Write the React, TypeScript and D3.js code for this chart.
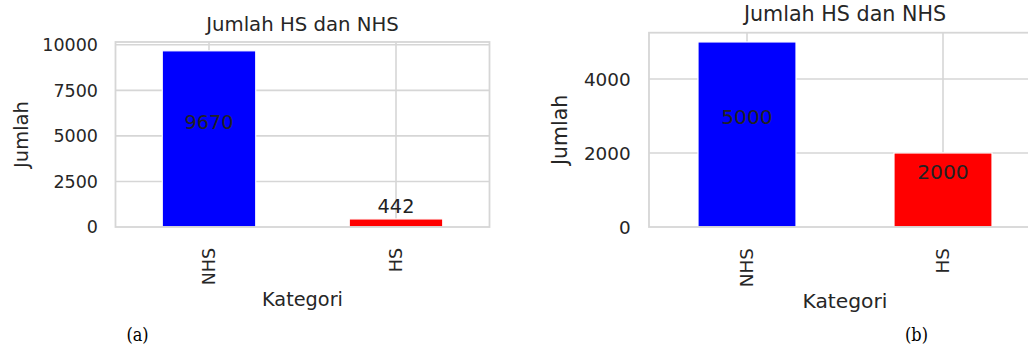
import React from 'react';
import * as d3 from 'd3';

const categories = ['NHS', 'HS'];
const valuesA = [9670, 442];
const valuesB = [5000, 2000];
const ticksA = [0, 2500, 5000, 7500, 10000];
const ticksB = [0, 2000, 4000];
const barColors = ['#0000ff', '#ff0000'];
const chartTitle = 'Jumlah HS dan NHS';
const xLabel = 'Kategori';
const yLabel = 'Jumlah';
const captions = ['(a)', '(b)'];

const W = 1028;
const H = 351;
const FONT = '"DejaVu Sans", sans-serif';
const TXT = '#262626';
const GRID = '#d6d6d6';

type Layout = {
  left: number; right: number; top: number; bottom: number; s: number;
  yLabelX: number; xLabelY: number; captionX: number;
};

const layoutA: Layout = { left: 115.5, right: 489.5, top: 42, bottom: 227, s: 1, yLabelX: 27.5, xLabelY: 306, captionX: 137.5 };
const layoutB: Layout = { left: 649, right: 1041, top: 32.7, bottom: 227, s: 1.05, yLabelX: 567, xLabelY: 308, captionX: 916.5 };

function Panel({ values, ticks, L, caption }: { values: number[]; ticks: number[]; L: Layout; caption: string }) {
  const maxV = d3.max(values) as number;
  const y = d3.scaleLinear().domain([0, maxV * 1.05]).range([L.bottom, L.top]);
  const x = d3.scaleLinear().domain([-0.5, categories.length - 0.5]).range([L.left, L.right]);
  const barW = (x(0.25) - x(-0.25));
  const s = L.s;
  const cx = (L.left + L.right) / 2;
  const cy = (L.top + L.bottom) / 2;
  return (
    <g>
      {ticks.filter(t => t > 0).map(t => (
        <line key={'gy' + t} x1={L.left} x2={L.right} y1={y(t)} y2={y(t)} stroke={GRID} strokeWidth={1.6} />
      ))}
      {categories.map((c, i) => (
        <line key={'gx' + c} x1={x(i)} x2={x(i)} y1={L.top} y2={L.bottom} stroke={GRID} strokeWidth={1.6} />
      ))}
      {values.map((v, i) => (
        <rect key={'b' + i} x={x(i) - barW / 2} y={y(v)} width={barW} height={y(0) - y(v)}
          fill={barColors[i]} stroke="#ffffff" strokeWidth={1.2} />
      ))}
      <rect x={L.left} y={L.top} width={L.right - L.left} height={L.bottom - L.top} fill="none" stroke={GRID} strokeWidth={1.8} />
      <text x={cx} y={L.top - 11 * s} textAnchor="middle" fontFamily={FONT} fontSize={19.7 * s} fill={TXT}>{chartTitle}</text>
      {ticks.map(t => (
        <text key={'ty' + t} x={L.left - 17.5 * s} y={y(t)} dy="0.36em" textAnchor="end" fontFamily={FONT} fontSize={17.5 * s} fill={TXT}>{t}</text>
      ))}
      {categories.map((c, i) => (
        <text key={'tx' + c} transform={`translate(${x(i) + 6 * s},248) rotate(-90)`} textAnchor="end" fontFamily={FONT} fontSize={17.5 * s} fill={TXT}>{c}</text>
      ))}
      <text transform={`translate(${L.yLabelX},${cy}) rotate(-90)`} textAnchor="middle" fontFamily={FONT} fontSize={19.5 * s} fill={TXT}>{yLabel}</text>
      <text x={cx} y={L.xLabelY} textAnchor="middle" fontFamily={FONT} fontSize={19.3 * s} fill={TXT}>{xLabel}</text>
      {values.map((v, i) => (
        <text key={'v' + i} x={x(i)} y={y(v / 2) - 10 * s} textAnchor="middle" fontFamily={FONT} fontSize={19.3 * s} fill="#222222">{v}</text>
      ))}
      <text x={L.captionX} y={341} textAnchor="middle" fontFamily='"DejaVu Serif", serif' fontSize={19} fill="#000"
        transform={`translate(${L.captionX},0) scale(0.85,1) translate(${-L.captionX},0)`}>{caption}</text>
    </g>
  );
}

export default function App() {
  return (
    <svg width={W} height={H} viewBox={`0 0 ${W} ${H}`} style={{ position: 'absolute', left: 0, top: 0, display: 'block', background: '#fff' }}>
      <rect x={0} y={0} width={W} height={H} fill="#ffffff" />
      <Panel values={valuesA} ticks={ticksA} L={layoutA} caption={captions[0]} />
      <Panel values={valuesB} ticks={ticksB} L={layoutB} caption={captions[1]} />
    </svg>
  );
}
